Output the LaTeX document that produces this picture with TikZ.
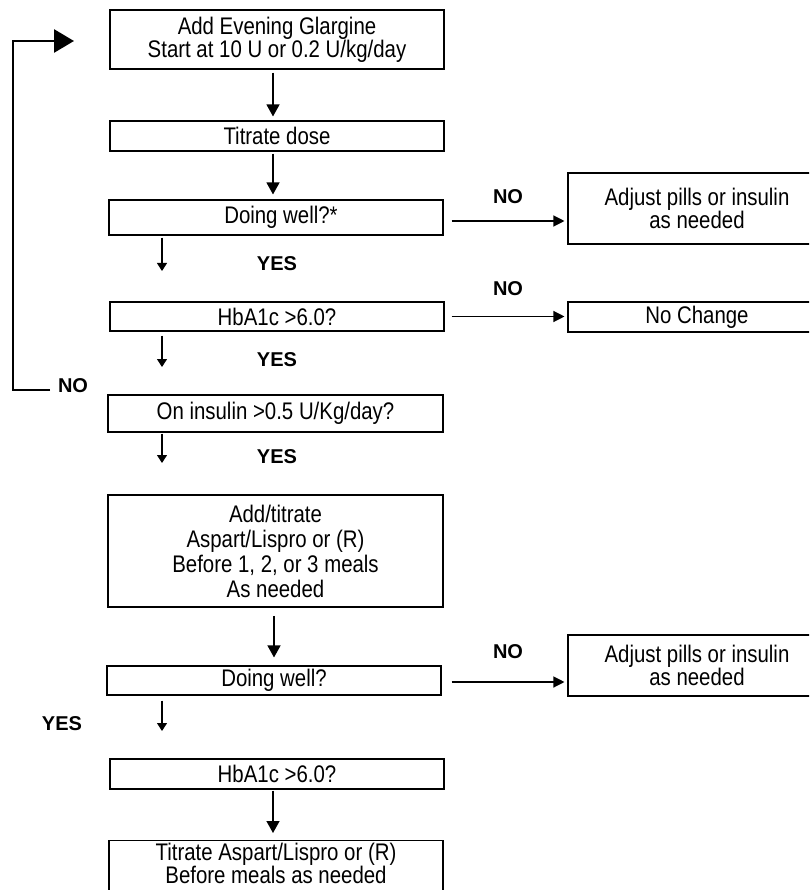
\documentclass[tikz,border=0pt]{standalone}
\usepackage{fontspec}
\setmainfont{Liberation Sans}[FakeStretch=0.85]
\newfontfamily\lblf{Liberation Sans}
\usetikzlibrary{arrows.meta,calc}
\begin{document}
\begin{tikzpicture}[x=1pt,y=-1pt,
  box/.style={draw, line width=1.1pt, rectangle, inner sep=0pt, align=center,
    font=\fontsize{24}{23}\selectfont},
  lbl/.style={inner sep=0pt, font=\lblf\bfseries\fontsize{20}{22}\selectfont},
  marr/.style={line width=1.3pt, -{Triangle[length=12pt,width=13pt]}},
  sarr/.style={line width=1.1pt, -{Triangle[length=8pt,width=10pt]}},
  harr/.style={line width=1.2pt, -{Triangle[length=11pt,width=11pt]}, shorten >=3pt},
  looparr/.style={line width=2.8pt, -{Triangle[length=20pt,width=23pt]}}
]
\useasboundingbox (0,0) rectangle (809,890);
\begin{scope}
\clip (0,0) rectangle (809,890);
% boxes
\node[box, minimum width=334pt, minimum height=59pt] (b1) at (277,39.5) {Add Evening Glargine\\Start at 10 U or 0.2 U/kg/day};
\node[box, minimum width=334pt, minimum height=30pt] (b2) at (277,136) {Titrate dose};
\node[box, minimum width=334pt, minimum height=35pt] (b3) at (276,217.5) {\hspace*{10pt}Doing well?*};
\node[box, minimum width=258pt, minimum height=71pt] (a1) at (697,208.5) {Adjust pills or insulin\\as needed};
\node[box, minimum width=334pt, minimum height=29pt] (b4) at (277,316.5) {HbA1c >6.0?};
\node[box, minimum width=258pt, minimum height=30pt] (nc) at (697,317) {No Change};
\node[box, minimum width=335pt, minimum height=37pt] (b5) at (275.5,413.5) {On insulin >0.5 U/Kg/day?};
\node[box, line width=1.8pt, font=\fontsize{24}{25}\selectfont, minimum width=335pt, minimum height=112pt] (b6) at (275.5,551) {Add/titrate\\Aspart/Lispro or (R)\\Before 1, 2, or 3 meals\\As needed};
\node[box, minimum width=334pt, minimum height=29pt] (b7) at (274,680.5) {Doing well?};
\node[box, minimum width=258pt, minimum height=61pt] (a2) at (697,665.5) {Adjust pills or insulin\\as needed};
\node[box, minimum width=334pt, minimum height=30pt] (b8) at (277,774) {HbA1c >6.0?};
\node[box, minimum width=334pt, inner ysep=2.5pt, anchor=north] (b9) at (276,840) {Titrate Aspart/Lispro or (R)\\Before meals as needed\rule[-30pt]{0pt}{30pt}};
% labels
\node[lbl] (ny1) at (277,264) {YES};
\node[lbl] (nn1) at (508,196.5) {NO};
\node[lbl] (nn2) at (508,288.5) {NO};
\node[lbl] (ny2) at (277,359.5) {YES};
\node[lbl] (nn0) at (73,386) {NO};
\node[lbl] (ny3) at (277,456.5) {YES};
\node[lbl] (nn3) at (508,652) {NO};
\node[lbl] (ny4) at (62,724) {YES};
% main arrows
\draw[marr] ($(b1.south)+(-4,3)$) -- ($(b2.north)+(-4,-4)$);
\draw[marr] ($(b2.south)+(-4,2)$) -- ($(b3.north)+(-3,-5)$);
\draw[marr] ($(b6.south)+(-1.5,8)$) -- ($(b7.north)+(0,-8)$);
\draw[marr] ($(b8.south)+(-4,1)$) -- ($(b9.north)+(-3,-7)$);
% small yes arrows
\coordinate (y1e) at (162,271);
\coordinate (y2e) at (162,367);
\coordinate (y3e) at (162,463);
\coordinate (y4e) at (162,731);
\draw[sarr, shorten <=2pt] (b3.south -| y1e) -- (y1e);
\draw[sarr, shorten <=4pt] (b4.south -| y2e) -- (y2e);
\draw[sarr, shorten <=1pt] (b5.south -| y3e) -- (y3e);
\draw[sarr, shorten <=5pt] (b7.south -| y4e) -- (y4e);
% horizontal no arrows
\coordinate (h1s) at ($(b3.east)+(8,3.5)$);
\coordinate (h2s) at ($(b4.east)+(7,0)$);
\coordinate (h3s) at ($(b7.east)+(10,1.5)$);
\draw[harr] (h1s) -- (h1s -| a1.west);
\draw[harr] (h2s) -- (h2s -| nc.west);
\draw[harr] (h3s) -- (h3s -| a2.west);
% loop back
\coordinate (ls) at (50,390);
\coordinate (lc) at (13,390);
\coordinate (le) at (74,41);
\draw[looparr] (ls) -- (lc) |- (le);
\end{scope}
\end{tikzpicture}
\end{document}
